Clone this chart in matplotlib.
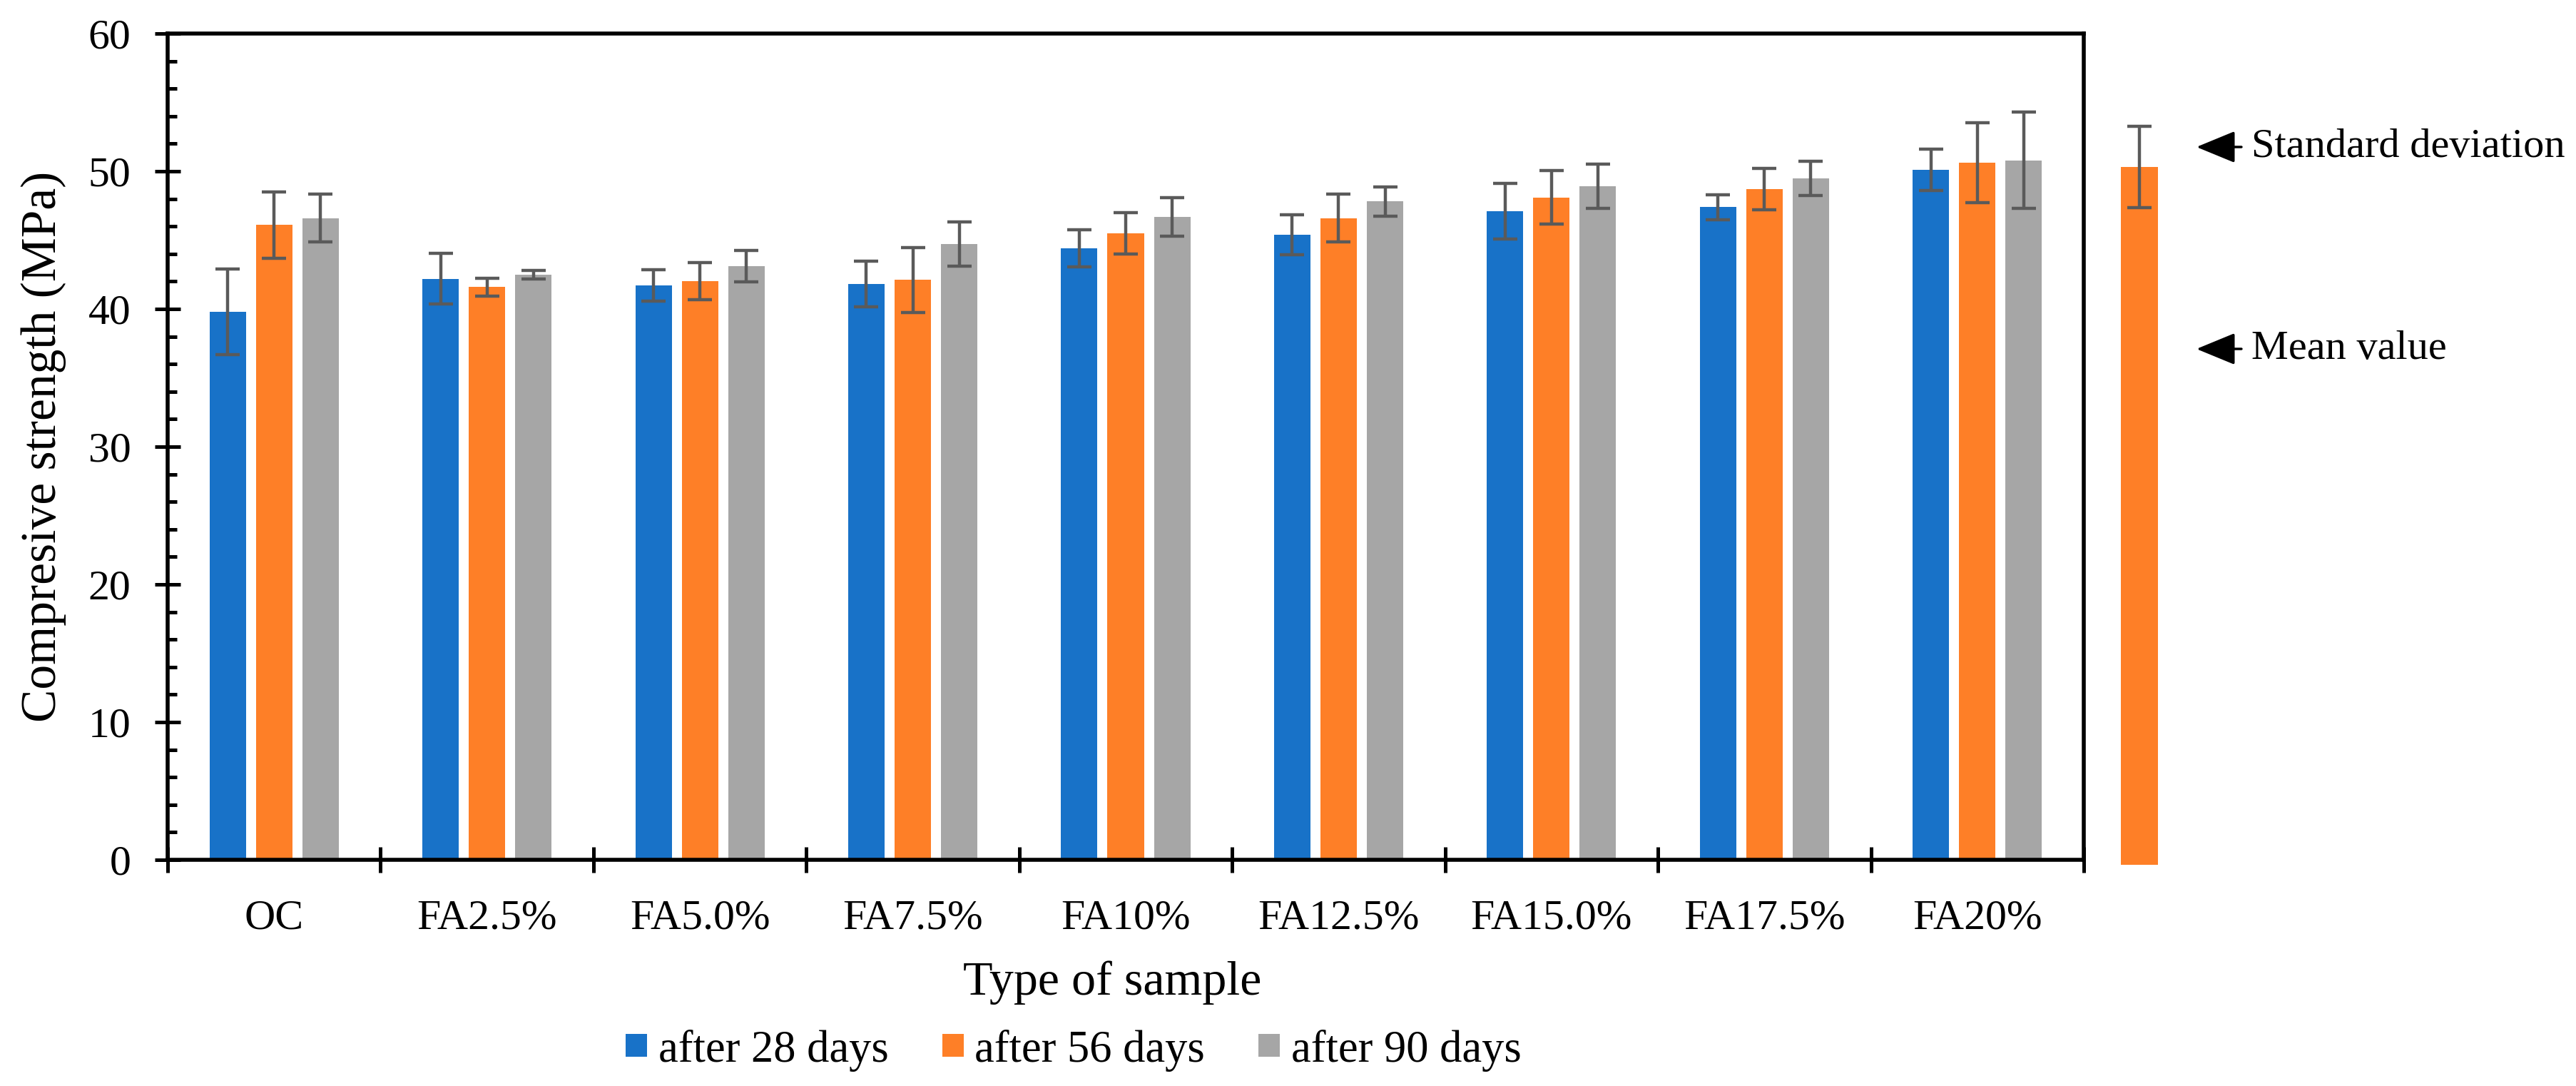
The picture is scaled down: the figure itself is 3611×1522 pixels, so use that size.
import numpy as np
import matplotlib
matplotlib.use("Agg")
import matplotlib.pyplot as plt
from matplotlib import font_manager
from matplotlib.font_manager import FontProperties
from matplotlib.ticker import MultipleLocator, FixedLocator, NullFormatter

# data (MPa)
samples = ["OC", "FA2.5%", "FA5.0%", "FA7.5%", "FA10%", "FA12.5%", "FA15.0%", "FA17.5%", "FA20%"]
series_names = ["after 28 days", "after 56 days", "after 90 days"]
mean_28 = [39.8, 42.2, 41.7, 41.8, 44.4, 45.4, 47.1, 47.4, 50.1]
mean_56 = [46.1, 41.6, 42.0, 42.1, 45.5, 46.6, 48.1, 48.7, 50.6]
mean_90 = [46.6, 42.5, 43.1, 44.7, 46.7, 47.8, 48.9, 49.5, 50.8]
sd_28 = [3.1, 1.85, 1.15, 1.65, 1.35, 1.45, 2.0, 0.9, 1.5]
sd_56 = [2.4, 0.65, 1.35, 2.35, 1.5, 1.75, 1.95, 1.5, 2.9]
sd_90 = [1.75, 0.3, 1.15, 1.6, 1.4, 1.05, 1.6, 1.25, 3.5]
key_mean = 50.3
key_sd = 2.95

colors = ["#1872C8", "#FE7F27", "#A6A6A6"]
err_color = "#5A5A5A"

plt.rcParams['font.family'] = 'serif'
plt.rcParams['font.serif'] = ['Liberation Serif', 'DejaVu Serif']
SERIF = font_manager.findfont(FontProperties(family='Liberation Serif'))


def fp(size):
    return FontProperties(fname=SERIF, size=size)


fig = plt.figure(figsize=(36.11, 15.22), dpi=100)
W, H = 3611, 1522
ax = fig.add_axes([235 / W, 1 - 1205 / H, (2921 - 235) / W, (1205 - 47) / H])

x = np.arange(len(samples))
step = 0.218
width = 0.171
means = [mean_28, mean_56, mean_90]
sds = [sd_28, sd_56, sd_90]
handles = []
for i in range(3):
    b = ax.bar(x + (i - 1) * step, means[i], width, color=colors[i], label=series_names[i],
               yerr=sds[i], ecolor=err_color,
               error_kw=dict(elinewidth=3.2, capsize=12, capthick=3.2), zorder=2)
    handles.append(b)

ax.set_xlim(-0.5, len(samples) - 0.5)
ax.set_ylim(0, 60)

for s in ax.spines.values():
    s.set_linewidth(4)

ax.yaxis.set_major_locator(MultipleLocator(10))
ax.yaxis.set_minor_locator(MultipleLocator(2))
ax.set_yticks(np.arange(0, 61, 10))
ax.set_yticklabels([str(v) for v in range(0, 61, 10)], fontproperties=fp(43))
ax.tick_params(axis='y', which='major', direction='inout', length=26, width=3.6, pad=24)
ax.tick_params(axis='y', which='minor', direction='in', length=9, width=3.6)

# category ticks sit on the group boundaries, labels at group centres
ax.xaxis.set_major_locator(FixedLocator(np.arange(-0.5, len(samples), 1.0)))
ax.xaxis.set_major_formatter(NullFormatter())
ax.xaxis.set_minor_locator(FixedLocator(x))
ax.set_xticklabels(samples, minor=True, fontproperties=fp(43))
ax.tick_params(axis='x', which='major', direction='inout', length=26, width=3.6)
ax.tick_params(axis='x', which='minor', length=0, pad=40)

ax.set_ylabel("Compresive strength (MPa)", fontproperties=fp(50), labelpad=22)
ax.set_xlabel("Type of sample", fontproperties=fp(49))
ax.xaxis.set_label_coords(0.493, -0.122)

fig.legend(handles=handles, labels=series_names, loc='center', ncol=3,
           bbox_to_anchor=(1505 / W, 1 - 1472 / H), frameon=False, prop=fp(45),
           handlelength=0.48, handleheight=0.41, handletextpad=0.25,
           columnspacing=1.2)

# key bar on the right explaining mean value and standard deviation
kax = fig.add_axes([2973 / W, 1 - 1212 / H, 52 / W, (1212 - 47) / H])
kax.bar([0], [key_mean + 0.36], 1.0, bottom=-0.36, color=colors[1],
        yerr=[key_sd], ecolor=err_color,
        error_kw=dict(elinewidth=3.2, capsize=12, capthick=3.2))
kax.set_xlim(-0.5, 0.5)
kax.set_ylim(-0.36, 60)
kax.axis('off')

arrow_kw = dict(arrowstyle='-|>,head_length=34,head_width=14', color='black', lw=2.5,
                mutation_scale=1, shrinkA=0, shrinkB=0)
for label, yp in [("Standard deviation", 206), ("Mean value", 489)]:
    yf = 1 - yp / H
    fig.add_artist(matplotlib.patches.FancyArrowPatch(
        (3142 / W, yf), (3079 / W, yf), transform=fig.transFigure, **arrow_kw))
    fig.text(3156 / W, yf, label, ha='left', va='center', fontproperties=fp(42))

fig.savefig("out.png", dpi=100)
